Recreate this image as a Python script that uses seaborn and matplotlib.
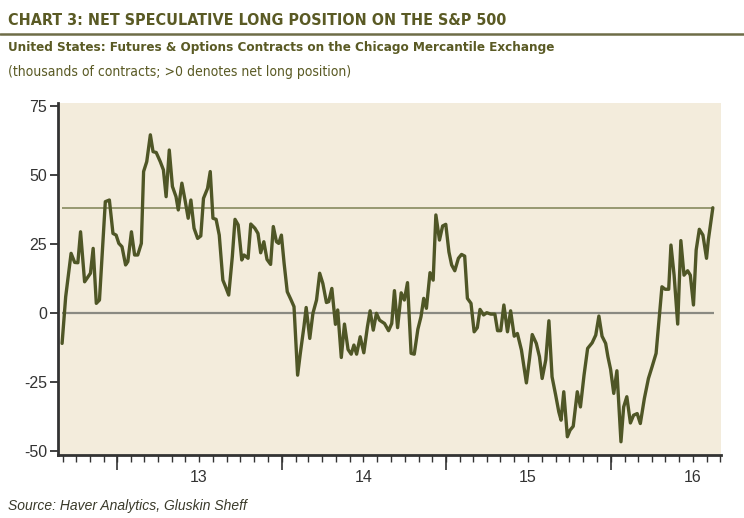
import matplotlib
matplotlib.use("Agg")
import matplotlib.pyplot as plt
import matplotlib.dates as mdates
import seaborn as sns
import pandas as pd

dates = [
    "2012-08-31", "2012-09-08", "2012-09-20", "2012-09-28", "2012-10-05", "2012-10-11",
    "2012-10-20", "2012-10-30", "2012-11-02", "2012-11-08", "2012-11-15", "2012-11-22",
    "2012-12-05", "2012-12-14", "2012-12-22", "2012-12-29", "2013-01-04", "2013-01-11",
    "2013-01-19", "2013-01-24", "2013-02-01", "2013-02-08", "2013-02-15", "2013-02-23",
    "2013-02-28", "2013-03-07", "2013-03-15", "2013-03-21", "2013-03-28", "2013-04-06",
    "2013-04-13", "2013-04-19", "2013-04-26", "2013-05-03", "2013-05-11", "2013-05-16",
    "2013-05-24", "2013-05-31", "2013-06-07", "2013-06-13", "2013-06-20", "2013-06-28",
    "2013-07-05", "2013-07-11", "2013-07-20", "2013-07-26", "2013-08-01", "2013-08-08",
    "2013-08-15", "2013-08-23", "2013-08-29", "2013-09-05", "2013-09-13", "2013-09-19",
    "2013-09-26", "2013-10-04", "2013-10-09", "2013-10-18", "2013-10-24", "2013-11-02",
    "2013-11-09", "2013-11-15", "2013-11-22", "2013-11-29", "2013-12-07", "2013-12-13",
    "2013-12-20", "2013-12-25", "2013-12-31", "2014-01-06", "2014-01-13", "2014-01-21",
    "2014-01-28", "2014-02-05", "2014-02-11", "2014-02-19", "2014-02-24", "2014-03-04",
    "2014-03-11", "2014-03-19", "2014-03-26", "2014-04-02", "2014-04-10", "2014-04-15",
    "2014-04-22", "2014-04-30", "2014-05-05", "2014-05-13", "2014-05-20", "2014-05-28",
    "2014-06-04", "2014-06-10", "2014-06-16", "2014-06-24", "2014-07-02", "2014-07-10",
    "2014-07-16", "2014-07-23", "2014-07-30", "2014-08-06", "2014-08-17", "2014-08-26",
    "2014-09-02", "2014-09-08", "2014-09-15", "2014-09-23", "2014-09-30", "2014-10-07",
    "2014-10-15", "2014-10-22", "2014-10-30", "2014-11-06", "2014-11-12", "2014-11-18",
    "2014-11-26", "2014-12-03", "2014-12-09", "2014-12-17", "2014-12-24", "2014-12-31",
    "2015-01-07", "2015-01-13", "2015-01-20", "2015-01-28", "2015-02-04", "2015-02-11",
    "2015-02-17", "2015-02-25", "2015-03-04", "2015-03-11", "2015-03-17", "2015-03-25",
    "2015-04-01", "2015-04-10", "2015-04-19", "2015-04-25", "2015-05-02", "2015-05-09",
    "2015-05-17", "2015-05-24", "2015-06-01", "2015-06-08", "2015-06-17", "2015-06-28",
    "2015-07-05", "2015-07-11", "2015-07-20", "2015-07-27", "2015-08-02", "2015-08-10",
    "2015-08-17", "2015-08-24", "2015-09-01", "2015-09-08", "2015-09-13", "2015-09-19",
    "2015-09-27", "2015-10-03", "2015-10-10", "2015-10-19", "2015-10-26", "2015-11-03",
    "2015-11-11", "2015-11-21", "2015-11-29", "2015-12-06", "2015-12-13", "2015-12-21",
    "2015-12-26", "2016-01-01", "2016-01-08", "2016-01-15", "2016-01-24", "2016-01-30",
    "2016-02-06", "2016-02-14", "2016-02-21", "2016-02-29", "2016-03-07", "2016-03-16",
    "2016-03-25", "2016-04-02", "2016-04-11", "2016-04-19", "2016-04-24", "2016-05-01",
    "2016-05-09", "2016-05-14", "2016-05-21", "2016-05-29", "2016-06-05", "2016-06-12",
    "2016-06-20", "2016-06-26", "2016-07-03", "2016-07-09", "2016-07-16", "2016-07-24",
    "2016-08-01", "2016-08-05", "2016-08-15",
]

net_long = [
    -11.1, 5.8, 21.5, 18.2, 18.1, 29.3,
    11.2, 13.6, 14.3, 23.3, 3.4, 4.6,
    40.2, 40.8, 28.7, 28.1, 25.1, 23.9,
    17.3, 18.5, 29.3, 20.9, 20.9, 25.1,
    51.1, 54.7, 64.4, 58.3, 58.0, 54.7,
    51.7, 42.0, 58.9, 45.7, 42.0, 37.2,
    46.9, 40.8, 34.2, 40.8, 30.6, 26.9,
    27.8, 41.4, 45.0, 51.1, 34.2, 33.8,
    28.1, 11.8, 9.4, 6.4, 20.3, 33.8,
    31.8, 19.1, 20.9, 19.7, 32.1, 30.6,
    28.7, 21.7, 25.7, 19.3, 17.5, 31.2,
    25.7, 25.1, 28.1, 17.9, 7.6, 4.8,
    2.2, -22.6, -14.7, -5.1, 1.9, -9.3,
    -0.2, 4.6, 14.3, 10.6, 3.7, 4.0,
    8.8, -4.2, 1.0, -16.2, -4.1, -13.3,
    -15.0, -11.7, -15.0, -8.7, -14.5, -5.1,
    0.7, -6.3, -0.2, -2.7, -3.9, -6.5,
    -3.9, 8.0, -5.4, 7.2, 4.6, 10.9,
    -14.7, -15.0, -6.0, -1.4, 5.2, 1.6,
    14.5, 11.8, 35.4, 26.3, 31.4, 32.0,
    22.0, 17.3, 15.2, 19.7, 21.1, 20.5,
    5.2, 3.4, -6.9, -5.4, 1.2, -0.8,
    0.0, -0.5, -0.5, -6.5, -6.5, 2.8,
    -6.9, 0.7, -8.5, -7.5, -13.5, -25.4,
    -16.5, -7.9, -11.1, -15.9, -23.8, -17.1,
    -2.9, -23.2, -29.8, -35.9, -38.9, -28.6,
    -44.9, -42.5, -41.1, -28.6, -34.1, -22.6,
    -12.9, -10.9, -8.1, -1.2, -8.5, -11.1,
    -15.9, -20.5, -29.2, -21.0, -46.7, -34.1,
    -30.4, -39.9, -37.1, -36.5, -40.1, -31.0,
    -23.8, -19.6, -14.7, 0.4, 9.4, 8.5,
    8.5, 24.5, 13.6, -4.1, 26.1, 13.6,
    15.2, 13.6, 2.8, 22.7, 30.2, 28.1,
    19.7, 26.3, 38.0,
]

y_ticks = [-50, -25, 0, 25, 50, 75]
year_labels = ["13", "14", "15", "16"]
year_label_dates = ["2013-07-01", "2014-07-01", "2015-07-01", "2016-07-01"]
year_starts = ["2013-01-01", "2014-01-01", "2015-01-01", "2016-01-01"]

title = "CHART 3: NET SPECULATIVE LONG POSITION ON THE S&P 500"
subtitle = "United States: Futures & Options Contracts on the Chicago Mercantile Exchange"
units = "(thousands of contracts; >0 denotes net long position)"
source = "Source: Haver Analytics, Gluskin Sheff"

df = pd.DataFrame({"date": pd.to_datetime(dates), "value": net_long})

sns.set_style("ticks")
plt.rcParams["font.family"] = ["DejaVu Sans"]

OLIVE = "#4f5626"
TITLE_C = "#5a5a24"
BG = "#f3ecdc"
AX_C = "#333333"

fig = plt.figure(figsize=(7.44, 5.18), dpi=100)
ax = fig.add_axes([0.078, 0.1216, 0.891, 0.680])
ax.set_facecolor(BG)

sns.lineplot(data=df, x="date", y="value", ax=ax, color=OLIVE, linewidth=2.4)

x0 = df["date"].iloc[0]
x1 = df["date"].iloc[-1] + pd.Timedelta(days=3)
ax.hlines(0, x0, x1, color="#8a8a82", linewidth=1.6, zorder=1)
ax.hlines(net_long[-1], x0, x1, color="#8f9268", linewidth=1.3, zorder=1)

ax.set_xlim(pd.Timestamp("2012-08-22"), pd.Timestamp("2016-09-02"))
ax.set_ylim(-51.5, 76)
ax.set_yticks(y_ticks)
ax.set_yticklabels([str(t) for t in y_ticks])
ax.tick_params(axis="y", direction="out", length=6, width=1.3, color=AX_C,
               labelsize=11.5, labelcolor="#333333", pad=2)
for lab in ax.get_yticklabels():
    lab.set_family(["Liberation Sans", "DejaVu Sans"])

ax.xaxis.set_minor_locator(mdates.MonthLocator())
ax.set_xticks(pd.to_datetime(year_label_dates))
ax.set_xticklabels(year_labels)
ax.tick_params(axis="x", which="major", length=5, width=1.0, color=AX_C,
               labelsize=11.5, labelcolor="#333333", pad=6)
ax.tick_params(axis="x", which="minor", length=5, width=1.0, color=AX_C)
for lab in ax.get_xticklabels():
    lab.set_family(["Liberation Sans", "DejaVu Sans"])

sec = ax.secondary_xaxis("bottom")
sec.set_xticks(mdates.date2num(pd.to_datetime(year_starts)))
sec.set_xticklabels([])
sec.tick_params(axis="x", length=11, width=1.2, color=AX_C)
sec.spines["bottom"].set_visible(False)

ax.set_xlabel("")
ax.set_ylabel("")
for s in ["top", "right"]:
    ax.spines[s].set_visible(False)
for s in ["left", "bottom"]:
    ax.spines[s].set_color(AX_C)
    ax.spines[s].set_linewidth(2)

fig.text(0.011, 0.961, title, fontsize=11.5, fontweight="bold", fontstretch="condensed",
         color=TITLE_C, va="center", ha="left", family=["DejaVu Sans"])
fig.add_artist(plt.Line2D([0, 1], [0.935, 0.935], transform=fig.transFigure,
                          color="#6e6d48", linewidth=1.8))
fig.text(0.011, 0.909, subtitle, fontsize=9.6, fontweight="bold", fontstretch="condensed",
         color=TITLE_C, va="center", ha="left", family=["DejaVu Sans"])
fig.text(0.011, 0.861, units, fontsize=10, fontstretch="condensed",
         color=TITLE_C, va="center", ha="left", family=["DejaVu Sans"])
fig.text(0.011, 0.023, source, fontsize=10, style="italic", color="#3a3a2a",
         va="center", ha="left", family=["Liberation Sans", "DejaVu Sans"])

fig.savefig("out.png", dpi=100)
